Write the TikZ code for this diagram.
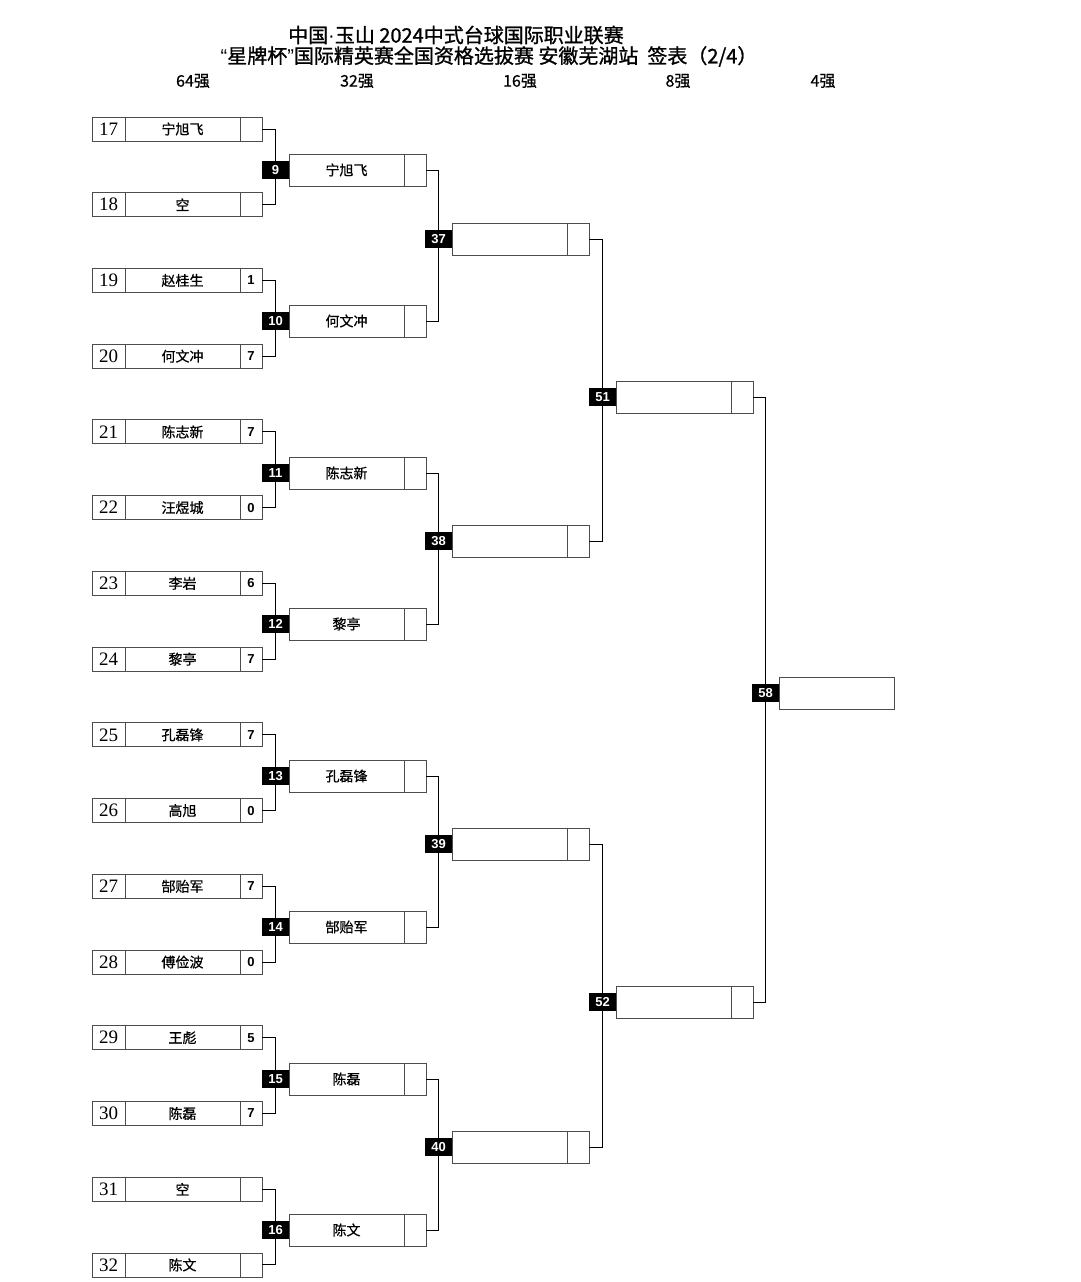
\documentclass[tikz,border=0pt]{standalone}
\usepackage{fontspec}
\setmainfont{Liberation Serif}
\newfontfamily\cjk{Noto Sans CJK SC}
\newfontfamily\cjkm[FakeBold=1.1]{Noto Sans CJK SC}
\newfontfamily\cjkn[FakeBold=0.6]{Noto Sans CJK SC}
\newfontfamily\numsans{Liberation Sans}
\begin{document}
\begin{tikzpicture}[x=1pt,y=-1pt,
  cell/.style={draw=black!70, line width=0.9pt, inner sep=0pt, outer sep=0pt, anchor=west},
  seedcell/.style={cell, minimum width=33pt, minimum height=24pt, font=\fontsize{19}{19}\selectfont},
  namecell/.style={cell, minimum width=115pt, minimum height=24pt, font=\cjkn\fontsize{14}{14}\selectfont},
  scorecell/.style={cell, minimum width=22pt, minimum height=24pt, font=\numsans\bfseries\fontsize{13}{13}\selectfont},
  wname/.style={cell, minimum width=115pt, minimum height=32pt, font=\cjkn\fontsize{14}{14}\selectfont},
  wscore/.style={cell, minimum width=22pt, minimum height=32pt},
  matchbox/.style={fill=black, text=white, inner sep=0pt, outer sep=0pt, minimum width=27pt, minimum height=18pt, font=\numsans\bfseries\fontsize{13}{13}\selectfont},
  link/.style={draw=black, line width=1pt},
  header/.style={font=\cjkn\fontsize{16}{16}\selectfont},
  titletext/.style={inner sep=0pt, font=\cjkm\fontsize{20}{20}\selectfont}
]
\useasboundingbox[fill=white] (0,0) rectangle (1080,1282);

% title
\node[titletext] (t1) at (456,35) {中国{\numsans·}玉山 2024中式台球国际职业联赛};
\node[titletext] (t2) at (489,56.5) {{\numsans “}星牌杯{\numsans ”}国际精英赛全国资格选拔赛 安徽芜湖站\ \ 签表（2/4）};

% headers
\node[header] (h64) at (193,81) {64强};
\node[header] (h32) at (357,81) {32强};
\node[header] (h16) at (520,81) {16强};
\node[header] (h8) at (678,81) {8强};
\node[header] (h4) at (823,81) {4强};

% round of 64 entries
\foreach \seed/\name/\score [count=\k from 0] in {
  17/宁旭飞/{}, 18/空/{}, 19/赵桂生/1, 20/何文冲/7,
  21/陈志新/7, 22/汪煜城/0, 23/李岩/6, 24/黎亭/7,
  25/孔磊锋/7, 26/高旭/0, 27/郜贻军/7, 28/傅俭波/0,
  29/王彪/5, 30/陈磊/7, 31/空/{}, 32/陈文/{}} {
  \pgfmathsetmacro{\yy}{129+\k*75.73}
  \node[seedcell] (a\seed) at (92,\yy) {\seed};
  \node[namecell] (n\seed) at (a\seed.east) {\name};
  \node[scorecell] (p\seed) at (n\seed.east) {\score};
}

% round of 32
\foreach \m/\name/\yy/\u/\d in {
  9/宁旭飞/170/17/18, 10/何文冲/321/19/20, 11/陈志新/473/21/22, 12/黎亭/624/23/24,
  13/孔磊锋/776/25/26, 14/郜贻军/927/27/28, 15/陈磊/1079/29/30, 16/陈文/1230/31/32} {
  \node[matchbox] (m\m) at (275.5,\yy) {\m};
  \node[wname] (n\m) at (289,\yy) {\name};
  \node[wscore] (p\m) at (n\m.east) {};
  \draw[link] (p\u.east) -| (m\m.north);
  \draw[link] (p\d.east) -| (m\m.south);
}

% round of 16
\foreach \m/\yy/\u/\d in {37/239/9/10, 38/541/11/12, 39/844/13/14, 40/1147/15/16} {
  \node[matchbox] (m\m) at (438.5,\yy) {\m};
  \node[wname] (n\m) at (452,\yy) {};
  \node[wscore] (p\m) at (n\m.east) {};
  \draw[link] (p\u.east) -| (m\m.north);
  \draw[link] (p\d.east) -| (m\m.south);
}

% quarter finals
\foreach \m/\yy/\u/\d in {51/397/37/38, 52/1002/39/40} {
  \node[matchbox] (m\m) at (602.5,\yy) {\m};
  \node[wname] (n\m) at (616,\yy) {};
  \node[wscore] (p\m) at (n\m.east) {};
  \draw[link] (p\u.east) -| (m\m.north);
  \draw[link] (p\d.east) -| (m\m.south);
}

% semi final slot
\node[matchbox] (m58) at (765.5,693) {58};
\node[wname] (n58) at (779,693) {};
\draw[link] (p51.east) -| (m58.north);
\draw[link] (p52.east) -| (m58.south);
\end{tikzpicture}
\end{document}
